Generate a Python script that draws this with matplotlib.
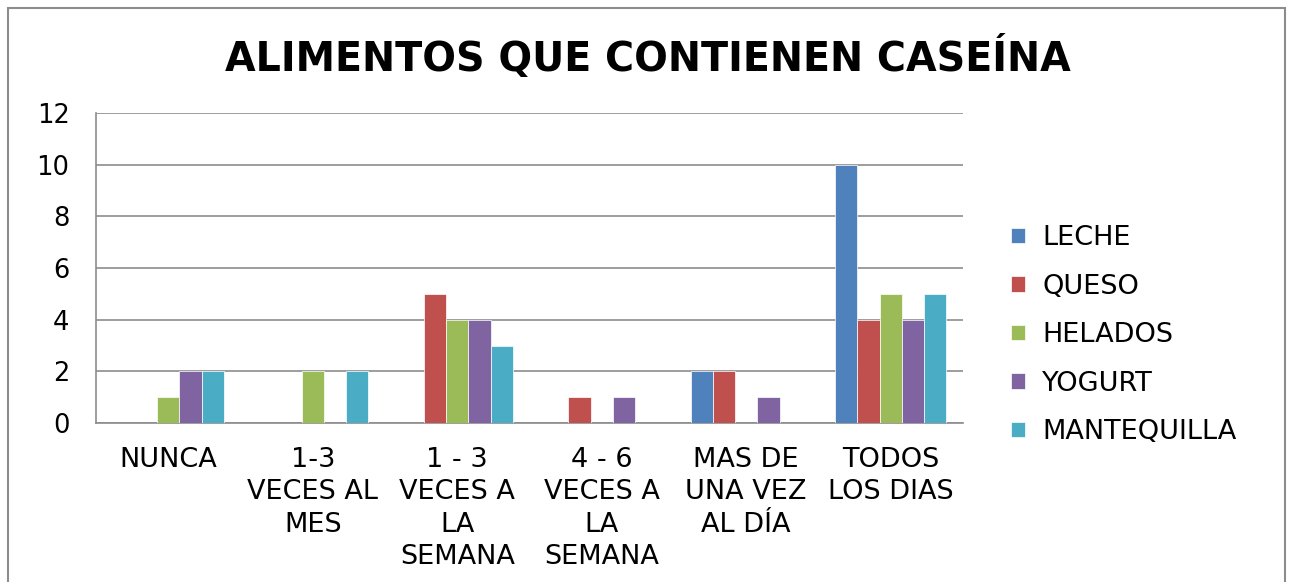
import matplotlib.pyplot as plt
import numpy as np
from matplotlib.patches import Rectangle

categorias = ["NUNCA", "1-3\nVECES AL\nMES", "1 - 3\nVECES A\nLA\nSEMANA",
              "4 - 6\nVECES A\nLA\nSEMANA", "MAS DE\nUNA VEZ\nAL DÍA", "TODOS\nLOS DIAS"]
leche = [0, 0, 0, 0, 2, 10]
queso = [0, 0, 5, 1, 2, 4]
helados = [1, 2, 4, 0, 0, 5]
yogurt = [2, 0, 4, 1, 1, 4]
mantequilla = [2, 2, 3, 0, 0, 5]
series = ["LECHE", "QUESO", "HELADOS", "YOGURT", "MANTEQUILLA"]
colores = ["#4F81BD", "#C0504D", "#9BBB59", "#8064A2", "#4BACC6"]

plt.rcParams['font.family'] = ['DejaVu Sans']

fig = plt.figure(figsize=(12.9, 5.82), dpi=100)
ax = fig.add_axes([0.0744, 0.2732, 0.6721, 0.5326])

x = np.arange(len(categorias))
w = 1 / 6.5
for i, (vals, nombre) in enumerate(zip([leche, queso, helados, yogurt, mantequilla], series)):
    ax.bar(x + (i - 2) * w, vals, width=w, color=colores[i], label=nombre,
           edgecolor='white', linewidth=0.5, zorder=3)

ax.set_xlim(-0.5, len(categorias) - 0.5)
ax.set_ylim(0, 12)
ax.set_yticks(range(0, 13, 2))
ax.grid(axis='y', color='#8c8c8c', linewidth=1.2, zorder=0)
for s in ['top', 'right']:
    ax.spines[s].set_visible(False)
ax.spines['left'].set_color('#8c8c8c')
ax.spines['bottom'].set_color('#8c8c8c')
ax.spines['left'].set_linewidth(1.2)
ax.spines['bottom'].set_linewidth(1.2)
ax.set_xticks(x)
ax.set_xticklabels(categorias, fontsize=19.5, linespacing=1.33)
ax.tick_params(axis='x', length=0, pad=17)
ax.tick_params(axis='y', length=0, pad=19, labelsize=18.5)

fig.text(0.502, 0.9, "ALIMENTOS QUE CONTIENEN CASEÍNA", ha='center', va='center',
         fontsize=28.5, fontweight='bold')

fig.legend(loc='center left', bbox_to_anchor=(0.765, 0.424), frameon=False,
           fontsize=19.5, handlelength=0.5, handleheight=0.5, labelspacing=0.83,
           handletextpad=0.65)

fig.patches.append(Rectangle((8 / 1290, -0.01), 1277 / 1290, 1 - 8 / 582 + 0.01,
                             transform=fig.transFigure, fill=False,
                             edgecolor='#8c8c8c', linewidth=1.5))

fig.savefig("out.png", dpi=100)
